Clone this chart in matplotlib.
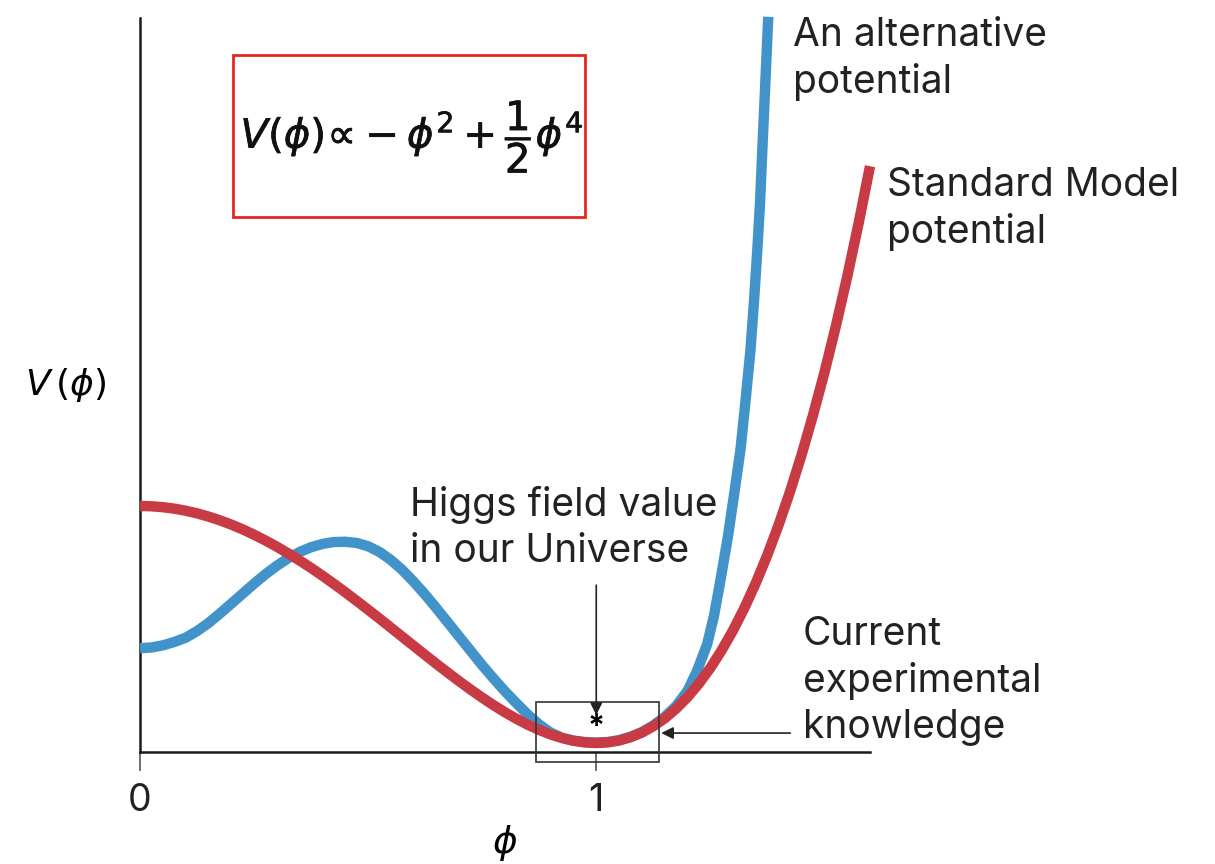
import matplotlib
matplotlib.use("Agg")
import matplotlib.pyplot as plt
import matplotlib.patheffects as pe
from matplotlib.patches import Rectangle

plt.rcParams['font.family'] = ['Inter', 'DejaVu Sans']
plt.rcParams['mathtext.fontset'] = 'dejavusans'

# Standard Model potential V = -phi^2 + phi^4/2
sm_phi = [0.0, 0.025, 0.05, 0.075, 0.1, 0.125, 0.15, 0.175, 0.2, 0.225, 0.25,
          0.275, 0.3, 0.325, 0.35, 0.375, 0.4, 0.425, 0.45, 0.475, 0.5,
          0.525, 0.55, 0.575, 0.6, 0.625, 0.65, 0.675, 0.7, 0.725, 0.75,
          0.775, 0.8, 0.825, 0.85, 0.875, 0.9, 0.925, 0.95, 0.975, 1.0,
          1.025, 1.05, 1.075, 1.1, 1.125, 1.15, 1.175, 1.2, 1.225, 1.25,
          1.275, 1.3, 1.325, 1.35, 1.375, 1.4, 1.425, 1.45, 1.475, 1.5,
          1.525, 1.55, 1.575, 1.6]
sm_v = [0.0, -0.0006, -0.0025, -0.0056, -0.0100, -0.0155, -0.0223, -0.0302,
        -0.0392, -0.0493, -0.0606, -0.0728, -0.0860, -0.1001, -0.1150,
        -0.1307, -0.1472, -0.1643, -0.1820, -0.2002, -0.2188, -0.2376,
        -0.2568, -0.2760, -0.2952, -0.3143, -0.3333, -0.3518, -0.3700,
        -0.3875, -0.4043, -0.4203, -0.4352, -0.4490, -0.4615, -0.4725,
        -0.4820, -0.4896, -0.4953, -0.4988, -0.5000, -0.4987, -0.4948,
        -0.4879, -0.4780, -0.4647, -0.4480, -0.4276, -0.4032, -0.3747,
        -0.3418, -0.3043, -0.2620, -0.2145, -0.1618, -0.1034, -0.0392,
        0.0311, 0.1078, 0.1913, 0.2813, 0.3788, 0.4835, 0.5963, 0.7168]

# alternative potential: false vacuum at phi = 0, barrier near phi ~ 0.45
alt_phi = [0.0, 0.025, 0.05, 0.075, 0.1, 0.125, 0.15, 0.175, 0.2, 0.225,
           0.25, 0.275, 0.3, 0.325, 0.35, 0.375, 0.4, 0.425, 0.45, 0.475,
           0.5, 0.525, 0.55, 0.575, 0.6, 0.625, 0.65, 0.675, 0.7, 0.725,
           0.75, 0.775, 0.8, 0.825, 0.85, 0.875, 0.9, 0.925, 0.95, 0.975,
           1.0, 1.025, 1.05, 1.075, 1.1, 1.125, 1.15, 1.175, 1.2, 1.22,
           1.243, 1.258, 1.272, 1.289, 1.303, 1.316, 1.327, 1.338, 1.346,
           1.353, 1.359, 1.364, 1.37, 1.377]
alt_v = [-0.300, -0.2985, -0.294, -0.287, -0.278, -0.264, -0.247, -0.227,
         -0.206, -0.185, -0.164, -0.144, -0.126, -0.110, -0.097, -0.087,
         -0.080, -0.076, -0.0755, -0.078, -0.085, -0.097, -0.114, -0.135,
         -0.160, -0.187, -0.216, -0.246, -0.276, -0.306, -0.336, -0.364,
         -0.391, -0.416, -0.440, -0.461, -0.478, -0.489, -0.495, -0.498,
         -0.499, -0.498, -0.494, -0.487, -0.477, -0.463, -0.445, -0.422,
         -0.390, -0.350, -0.292, -0.232, -0.158, -0.062, 0.030, 0.118,
         0.220, 0.329, 0.435, 0.540, 0.640, 0.751, 0.880, 1.032]

tick_pos = [0, 1]
tick_labels = ['0', '1']

W, H = 1215, 864


def px(x, y):
    return x / W, 1 - y / H


fig = plt.figure(figsize=(W / 100, H / 100), dpi=100)
ax = fig.add_axes([140 / W, 1 - 752 / H, 730 / W, 734 / H])
ax.set_xlim(0, 1.6)
ax.set_ylim(-0.519, 1.0295)

blue = '#4393cb'
red = '#c83a44'
ax.plot(alt_phi, alt_v, color=blue, lw=7.5, solid_capstyle='butt',
        solid_joinstyle='round', clip_on=False, zorder=3)
ax.plot(sm_phi, sm_v, color=red, lw=7.5, solid_capstyle='butt',
        solid_joinstyle='round', clip_on=False, zorder=4)

for s in ['top', 'right']:
    ax.spines[s].set_visible(False)
for s in ['left', 'bottom']:
    ax.spines[s].set_linewidth(1.8)
    ax.spines[s].set_color('#1a1a1a')
ax.set_yticks([])
ax.set_xticks(tick_pos)
ax.set_xticklabels(tick_labels, fontsize=27, color='#222222')
ax.tick_params(axis='x', direction='out', length=14, width=1.2, color='#555555', pad=8)

ax.set_xlabel(r'$\phi$', fontsize=27, labelpad=3)
fig.text(*px(25, 395), r'$V\,(\phi)$', fontsize=26, va='baseline', ha='left')

# window around the measured vacuum
ax.add_patch(Rectangle((0.868, -0.540), 0.270, 0.1265, fill=False, lw=1.2,
                       edgecolor='#333333', clip_on=False, zorder=5))
ax.text(1.0, -0.466, '*', fontsize=22, ha='center', va='center', zorder=6, fontweight='bold')
ax.annotate('', xy=(1.0, -0.441), xytext=(1.0, -0.167),
            arrowprops=dict(arrowstyle='-|>', color='#222222', lw=1.2,
                            mutation_scale=18, shrinkA=0, shrinkB=0), zorder=6)
ax.annotate('', xy=(1.1425, -0.479), xytext=(1.4254, -0.479),
            arrowprops=dict(arrowstyle='-|>', color='#222222', lw=1.2,
                            mutation_scale=18, shrinkA=0, shrinkB=0), zorder=6)

txt = dict(fontsize=28, color='#222222', va='baseline', ha='left', linespacing=1.3)
fig.text(*px(793, 93), 'An alternative\npotential', **txt)
fig.text(*px(887, 243), 'Standard Model\npotential', **txt)
fig.text(*px(410, 562), 'Higgs field value\nin our Universe', **txt)
fig.text(*px(803, 738), 'Current\nexperimental\nknowledge', **txt)

# formula box
fig.patches.append(Rectangle(px(233, 217), 352 / W, 162 / H, fill=False,
                             edgecolor='#e3261f', lw=2.0, transform=fig.transFigure))
fig.text(*px(412, 137), r'$V(\phi)\!\propto\!-\phi^2+\dfrac{1}{2}\phi^4$',
         fontsize=29, ha='center', va='center', color='#111111',
         path_effects=[pe.withStroke(linewidth=0.5, foreground='#111111')])

fig.savefig('out.png', dpi=100)
